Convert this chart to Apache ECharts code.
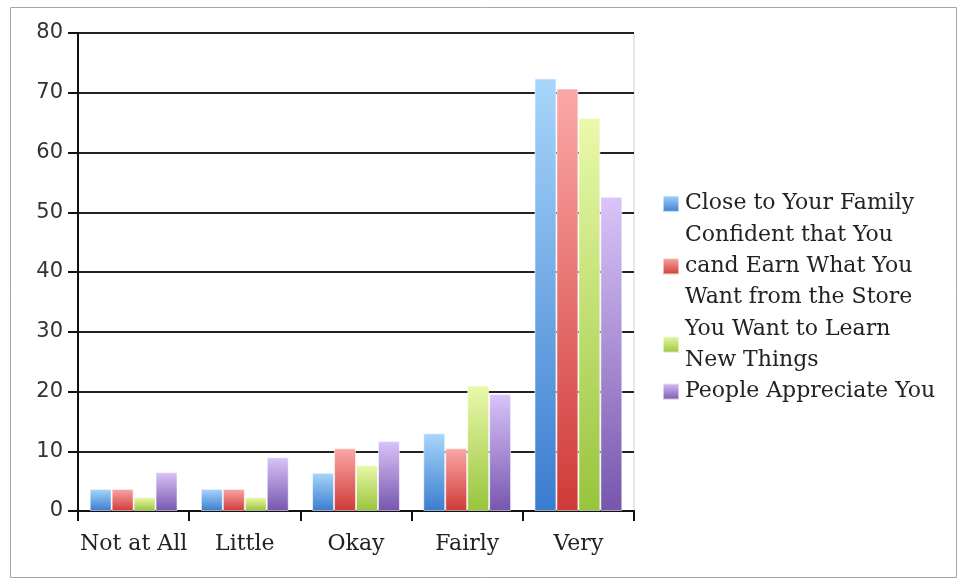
<!DOCTYPE html>
<html>
<head>
<meta charset="utf-8">
<script src="https://cdn.jsdelivr.net/npm/echarts@6/dist/echarts.min.js"></script>
<style>
  html, body { margin: 0; padding: 0; background: #fff; }
  #chart { width: 958px; height: 580px; }
</style>
</head>
<body>
<div id="chart"></div>
<script>
const categories = ["Not at All", "Little", "Okay", "Fairly", "Very"];

const closeFamily = [3.7, 3.7, 6.4, 13.0, 72.4];
const confidentEarn = [3.7, 3.7, 10.5, 10.5, 70.7];
const learnThings = [2.3, 2.3, 7.7, 21.0, 65.8];
const appreciated = [6.5, 9.0, 11.7, 19.6, 52.6];

const seriesNames = [
  "Close to Your Family",
  "Confident that You cand Earn What You Want from the Store",
  "You Want to Learn New Things",
  "People Appreciate You"
];
// how the legend wraps each name
const legendLabels = [
  "Close to Your Family",
  "Confident that You\ncand Earn What You\nWant from the Store",
  "You Want to Learn\nNew Things",
  "People Appreciate You"
];
const yTicks = { min: 0, max: 80, interval: 10 };

const palette = [
  ["#a8d6fb", "#3a7ccf"],
  ["#fba8a8", "#cf3a37"],
  ["#eaf9ab", "#98c43c"],
  ["#dac4f8", "#7656ae"]
];

const chart = echarts.init(document.getElementById("chart"));

const serif = "DejaVu Serif";
const sans = "DejaVu Sans";

function barSeries(name, values, idx) {
  const [top, bottom] = palette[idx];
  return {
    name,
    type: "bar",
    data: values,
    barGap: "0%",
    barCategoryGap: "21%",
    itemStyle: {
      color: new echarts.graphic.LinearGradient(0, 0, 0, 1, [
        { offset: 0, color: top },
        { offset: 1, color: bottom }
      ]),
      borderColor: "rgba(255,255,255,0.55)",
      borderWidth: 1
    },
    animation: false
  };
}

const option = {
  backgroundColor: "#fff",
  animation: false,
  graphic: [
    {
      type: "rect",
      shape: { x: 10.5, y: 7.5, width: 946, height: 570 },
      style: { fill: "none", stroke: "#a6a6a6", lineWidth: 1 },
      silent: true,
      z: -10
    }
  ],
  grid: {
    left: 78, right: 324, top: 33, bottom: 69,
    show: true,
    borderColor: "#cfcfcf",
    borderWidth: 1
  },
  legend: {
    orient: "vertical",
    left: 662,
    top: 188,
    padding: 0,
    itemWidth: 16,
    itemHeight: 16,
    itemGap: 0,
    icon: "rect",
    data: seriesNames,
    formatter: (name) => legendLabels[seriesNames.indexOf(name)],
    textStyle: {
      fontFamily: serif,
      fontSize: 22,
      lineHeight: 31.3,
      color: "#222",
      padding: [0, 0, 0, 1]
    }
  },
  xAxis: {
    type: "category",
    data: categories,
    axisLine: { lineStyle: { color: "#111", width: 2 } },
    axisTick: { show: true, interval: 0, length: 10, lineStyle: { color: "#111", width: 2 } },
    axisLabel: {
      interval: 0,
      fontFamily: serif,
      fontSize: 22,
      color: "#222",
      margin: 22
    }
  },
  yAxis: {
    type: "value",
    min: yTicks.min,
    max: yTicks.max,
    interval: yTicks.interval,
    axisLine: { show: true, lineStyle: { color: "#111", width: 2 } },
    axisTick: { show: true, length: 10, lineStyle: { color: "#111", width: 2 } },
    axisLabel: {
      fontFamily: sans,
      fontSize: 21,
      color: "#333",
      margin: 15
    },
    splitLine: { lineStyle: { color: "#222", width: 2 } }
  },
  series: [
    barSeries(seriesNames[0], closeFamily, 0),
    barSeries(seriesNames[1], confidentEarn, 1),
    barSeries(seriesNames[2], learnThings, 2),
    barSeries(seriesNames[3], appreciated, 3)
  ]
};

chart.setOption(option);
window.addEventListener("resize", () => chart.resize());
</script>
</body>
</html>
